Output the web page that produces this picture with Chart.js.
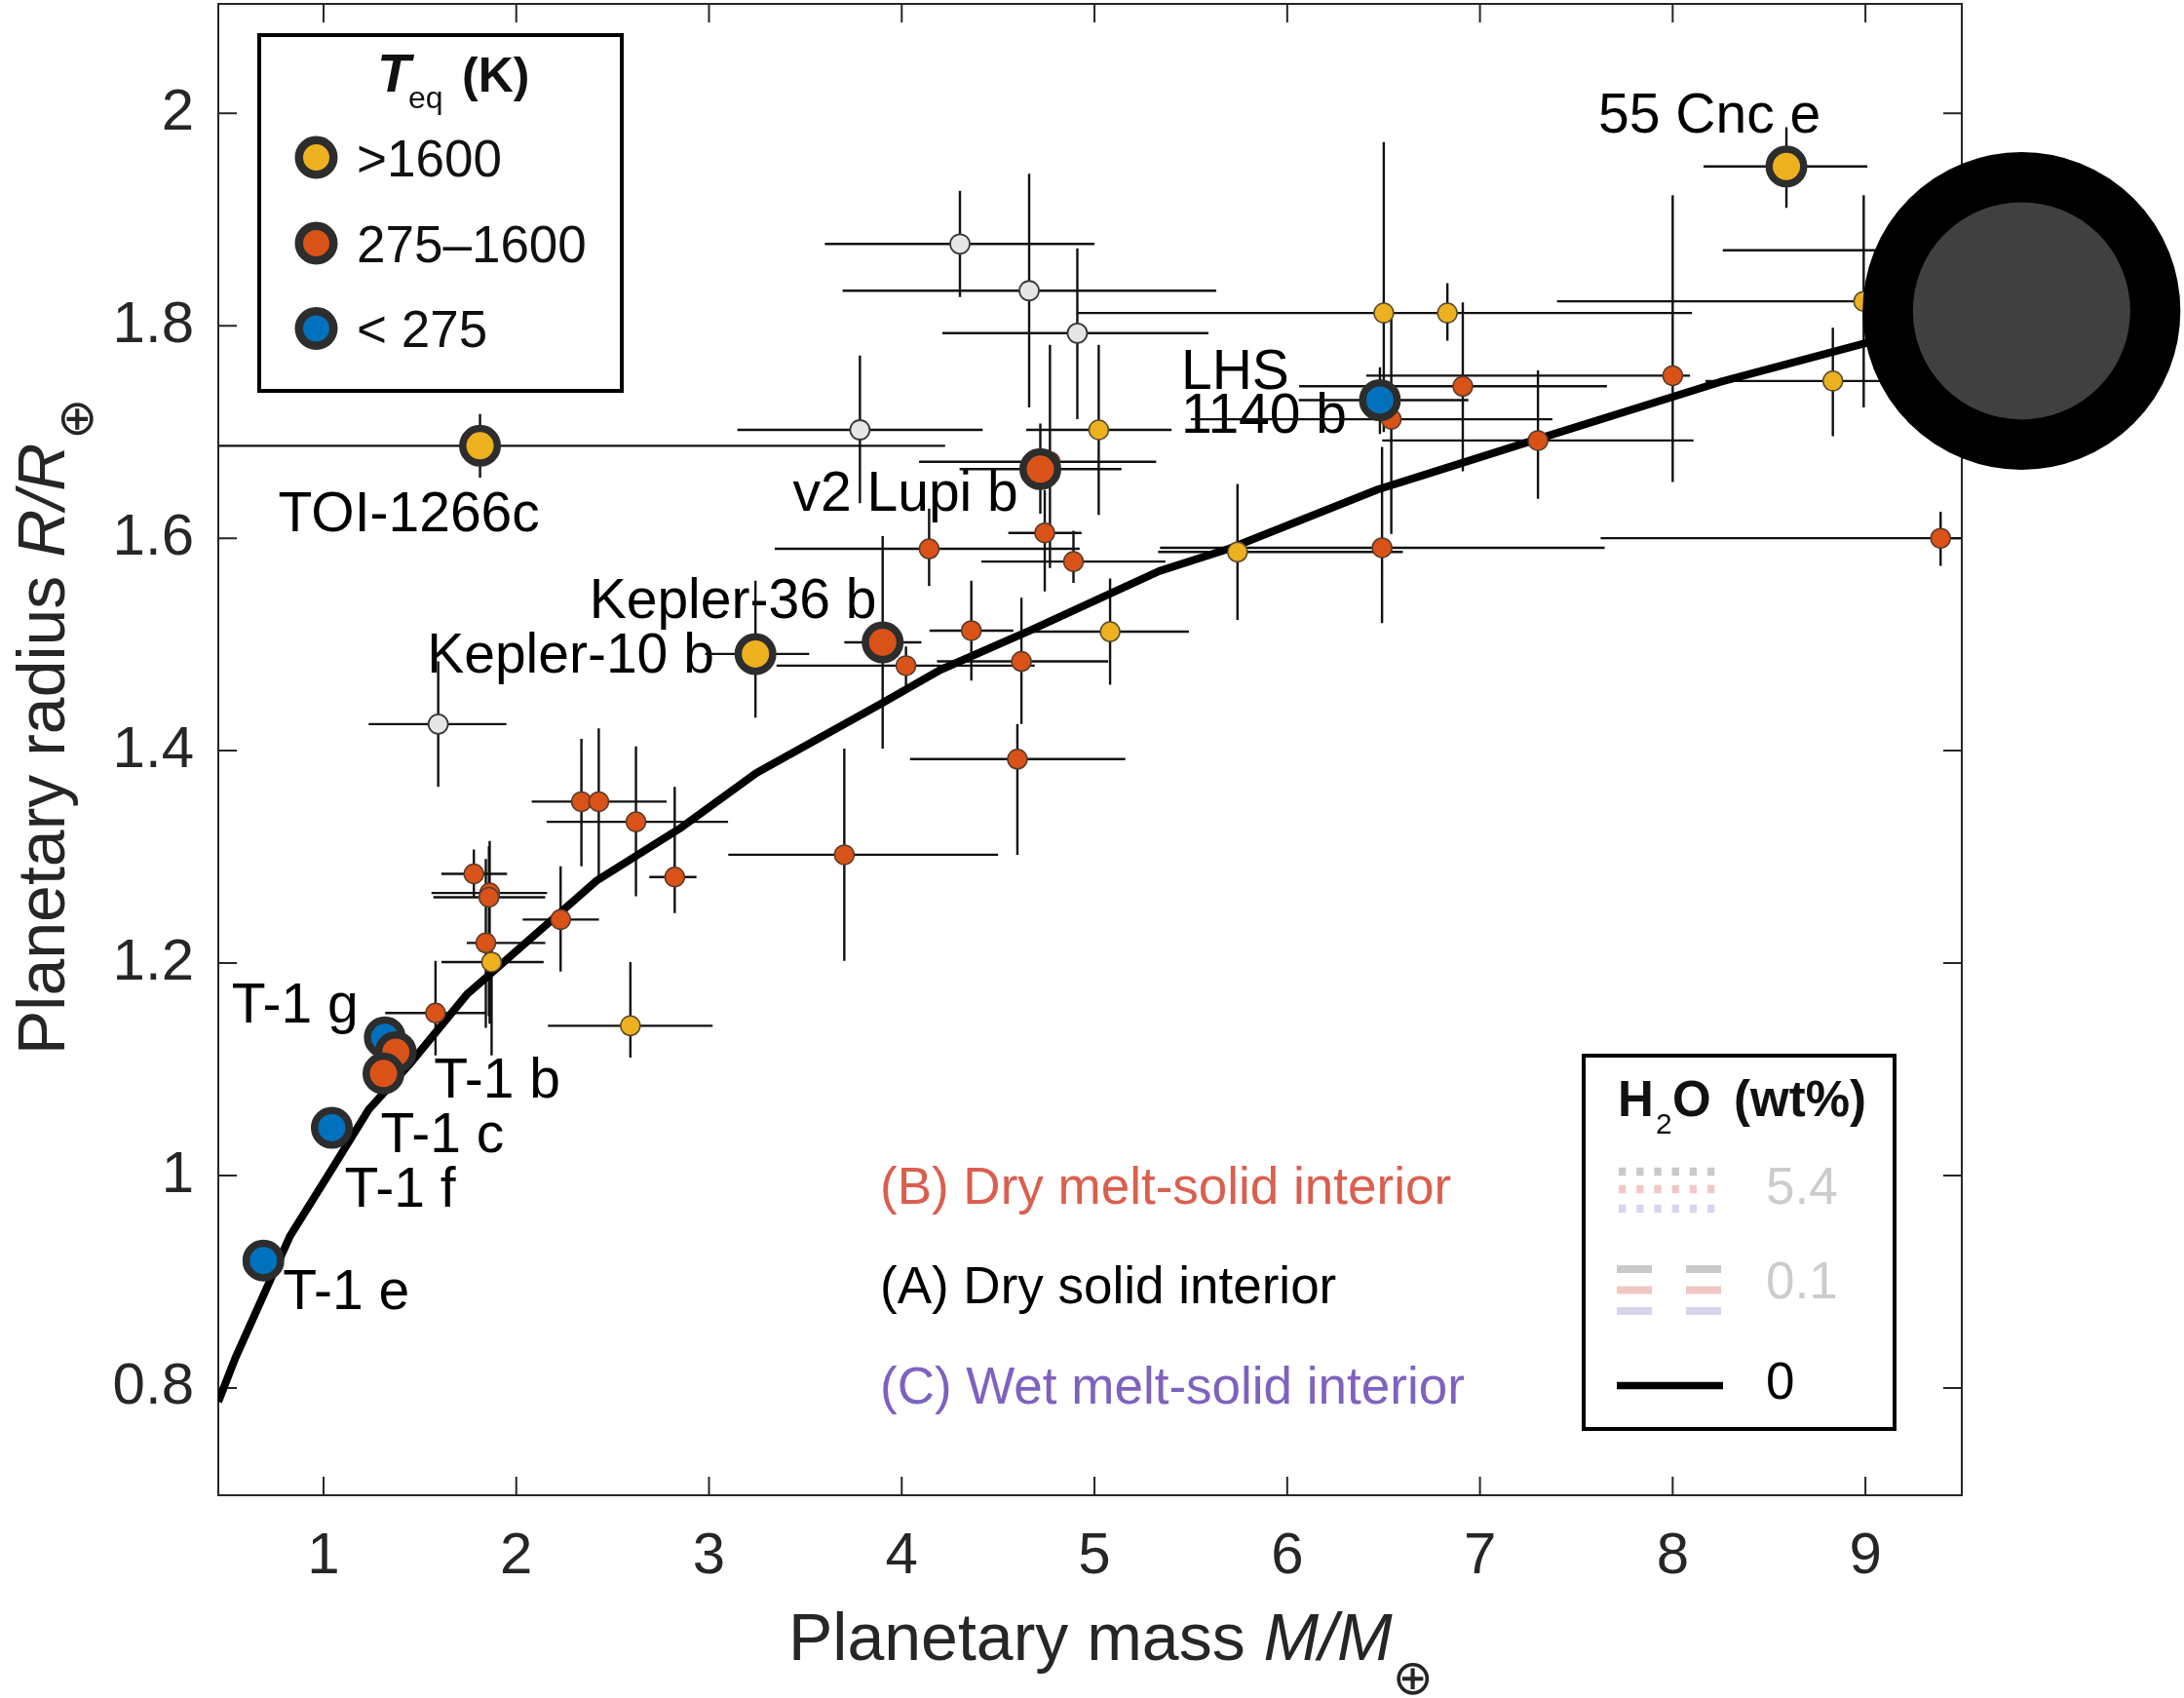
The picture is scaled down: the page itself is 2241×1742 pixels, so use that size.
<!DOCTYPE html>
<html lang="en">
<head>
  <meta charset="UTF-8">
  <title>Planetary mass-radius</title>
  <script src="https://cdn.jsdelivr.net/npm/chart.js"></script>
  <style>
    html, body { margin: 0; padding: 0; background: #fff; }
    canvas { display: block; }
  </style>
</head>
<body>
  <canvas id="chart" width="2241" height="1742"></canvas>
  <script>
    const xTicks = [1, 2, 3, 4, 5, 6, 7, 8, 9];
    const yTicks = [0.8, 1, 1.2, 1.4, 1.6, 1.8, 2];

    // rows: [mass, radius, massLo, massHi, radiusLo, radiusHi]
    const hotPlanets = [
      [1.872, 1.201, 1.612, 2.142, 1.113, 1.217],
      [2.592, 1.141, 2.164, 3.019, 1.111, 1.201],
      [5.081, 1.512, 4.63, 5.49, 1.462, 1.562],
      [5.742, 1.587, 5.33, 6.60, 1.523, 1.651],
      [5.022, 1.702, 4.646, 5.400, 1.622, 1.782],
      [6.501, 1.812, 4.91, 8.10, 1.70, 1.973],
      [6.831, 1.812, 6.60, 7.10, 1.786, 1.840],
      [8.831, 1.748, 8.17, 9.5, 1.696, 1.798],
      [8.991, 1.823, 7.40, 9.6, 1.723, 1.923],
      [9.30, 1.871, 8.26, 9.9, 1.83, 1.91]
    ];
    const warmPlanets = [
      [1.780, 1.284, 1.611, 1.952, 1.261, 1.307],
      [1.862, 1.266, 1.56, 2.16, 1.143, 1.315],
      [1.858, 1.262, 1.57, 2.15, 1.15, 1.31],
      [1.842, 1.219, 1.743, 2.151, 1.139, 1.298],
      [1.581, 1.153, 1.32, 1.842, 1.113, 1.202],
      [2.230, 1.241, 2.033, 2.429, 1.192, 1.291],
      [2.822, 1.281, 2.69, 2.935, 1.247, 1.366],
      [2.621, 1.333, 2.157, 3.099, 1.263, 1.404],
      [2.338, 1.352, 2.08, 2.776, 1.291, 1.411],
      [2.428, 1.352, 2.10, 2.78, 1.281, 1.421],
      [3.702, 1.302, 3.10, 4.50, 1.202, 1.402],
      [4.022, 1.480, 3.35, 4.69, 1.461, 1.498],
      [4.361, 1.513, 4.144, 4.579, 1.466, 1.560],
      [4.621, 1.484, 4.183, 5.071, 1.425, 1.544],
      [4.600, 1.392, 4.043, 5.160, 1.302, 1.425],
      [4.142, 1.590, 3.341, 4.923, 1.555, 1.628],
      [4.742, 1.605, 4.553, 4.933, 1.550, 1.645],
      [4.891, 1.578, 4.413, 5.368, 1.558, 1.607],
      [4.769, 1.672, 4.09, 5.32, 1.572, 1.782],
      [6.492, 1.591, 5.34, 7.647, 1.520, 1.686],
      [6.540, 1.712, 5.50, 7.376, 1.604, 1.813],
      [6.911, 1.743, 6.062, 7.659, 1.663, 1.822],
      [7.301, 1.692, 6.493, 8.108, 1.637, 1.758],
      [8.000, 1.753, 6.41, 8.09, 1.653, 1.923],
      [9.390, 1.600, 7.626, 9.9, 1.574, 1.625]
    ];
    const unknownPlanets = [
      [4.302, 1.877, 3.601, 5.000, 1.827, 1.927],
      [4.661, 1.833, 3.693, 5.632, 1.723, 1.943],
      [4.911, 1.793, 4.211, 5.591, 1.712, 1.873],
      [3.783, 1.702, 3.147, 4.42, 1.633, 1.772],
      [1.595, 1.425, 1.234, 1.949, 1.366, 1.484]
    ];

    // highlighted planets
    const namedNames = ['55 Cnc e', 'TOI-1266c', 'v2 Lupi b', 'LHS 1140 b', 'Kepler-36 b', 'Kepler-10 b',
                        'T-1 g', 'T-1 b', 'T-1 c', 'T-1 f', 'T-1 e'];
    const namedMass = [8.59, 1.812, 4.719, 6.481, 3.901, 3.241, 1.318, 1.375, 1.311, 1.043, 0.688];
    const namedRadius = [1.950, 1.687, 1.665, 1.730, 1.502, 1.491, 1.130, 1.116, 1.096, 1.045, 0.920];
    const namedTeq = ['hot', 'hot', 'warm', 'cool', 'warm', 'hot', 'cool', 'warm', 'warm', 'cool', 'cool'];
    const namedMassErr = [[8.16, 9.01], [0, 4.225], [4.30, 5.14], [6.06, 6.94], [3.702, 4.102], [2.98, 3.52],
                          null, null, null, null, null];
    const namedRadiusErr = [[1.911, 1.987], [1.657, 1.717], [1.623, 1.708], [1.698, 1.761], [1.402, 1.602], [1.431, 1.560],
                            null, null, null, null, null];

    // dry solid interior, 0 wt% H2O
    const curveMass = [0.454, 0.542, 0.826, 1.057, 1.234, 1.443, 1.746, 2.42, 2.859, 3.246, 3.89, 4.20,
                       4.665, 5.336, 5.697, 6.472, 6.70, 7.276, 8.245, 8.99, 9.5];
    const curveRadius = [0.787, 0.828, 0.943, 1.010, 1.062, 1.104, 1.171, 1.278, 1.328, 1.379, 1.444, 1.476,
                         1.513, 1.569, 1.590, 1.646, 1.659, 1.692, 1.747, 1.783, 1.808];

    const bigMass = [9.81];
    const bigRadius = [1.814];

    const teqColor = { hot: '#EDB120', warm: '#D95319', cool: '#0072BD' };
    const FONT = "'Liberation Sans', Arial, Helvetica, sans-serif";

    // label placement, pixels from the marker
    const labelLines = [['55 Cnc e'], ['TOI-1266c'], ['v2 Lupi b'], ['LHS', '1140 b'], ['Kepler-36 b'], ['Kepler-10 b'],
                        ['T-1 g'], ['T-1 b'], ['T-1 c'], ['T-1 f'], ['T-1 e']];
    const labelOffset = [[-193, -35], [-207, 88], [-254, 43], [-204, -11], [-301, -25], [-337, 19],
                         [-157, -15], [39, 46], [-3, 81], [13, 81], [20, 50]];

    const toPts = rows => rows.map(r => ({ x: r[0], y: r[1] }));

    const underLayer = {
      id: 'underLayer',
      beforeDatasetsDraw(chart) {
        const { ctx, chartArea: a, scales: { x, y } } = chart;
        ctx.save();
        // box + inward ticks
        ctx.strokeStyle = '#262626';
        ctx.lineWidth = 2;
        ctx.strokeRect(a.left, a.top, a.right - a.left, a.bottom - a.top);
        ctx.beginPath();
        xTicks.forEach(v => {
          const px = x.getPixelForValue(v);
          ctx.moveTo(px, a.bottom); ctx.lineTo(px, a.bottom - 19);
          ctx.moveTo(px, a.top); ctx.lineTo(px, a.top + 19);
        });
        yTicks.forEach(v => {
          const py = y.getPixelForValue(v);
          ctx.moveTo(a.left, py); ctx.lineTo(a.left + 19, py);
          ctx.moveTo(a.right, py); ctx.lineTo(a.right - 19, py);
        });
        ctx.stroke();

        // planet names
        ctx.fillStyle = '#000';
        ctx.font = '57px ' + FONT;
        ctx.textBaseline = 'alphabetic';
        ctx.textAlign = 'left';
        namedNames.forEach((n, i) => {
          const px = x.getPixelForValue(namedMass[i]) + labelOffset[i][0];
          const py = y.getPixelForValue(namedRadius[i]) + labelOffset[i][1];
          labelLines[i].forEach((t, k) => ctx.fillText(t, px, py + k * 45));
        });

        // error bars
        ctx.beginPath();
        ctx.rect(a.left, a.top, a.right - a.left, a.bottom - a.top);
        ctx.clip();
        ctx.strokeStyle = '#111';
        ctx.lineWidth = 2.4;
        const rows = [...unknownPlanets, ...hotPlanets, ...warmPlanets];
        namedNames.forEach((n, i) => {
          if (namedMassErr[i]) rows.push([namedMass[i], namedRadius[i], ...namedMassErr[i], ...namedRadiusErr[i]]);
        });
        ctx.beginPath();
        rows.forEach(([m, r, mLo, mHi, rLo, rHi]) => {
          const px = x.getPixelForValue(m), py = y.getPixelForValue(r);
          ctx.moveTo(x.getPixelForValue(mLo), py); ctx.lineTo(x.getPixelForValue(mHi), py);
          ctx.moveTo(px, y.getPixelForValue(rLo)); ctx.lineTo(px, y.getPixelForValue(rHi));
        });
        ctx.stroke();
        ctx.restore();
      }
    };

    function richText(ctx, parts, x, y) {
      let cx = x;
      parts.forEach(p => {
        ctx.font = p.font;
        ctx.textBaseline = p.middle ? 'middle' : 'alphabetic';
        ctx.fillText(p.text, cx + (p.dx || 0), y + (p.dy || 0));
        cx += ctx.measureText(p.text).width + (p.dx || 0);
      });
    }

    const overLayer = {
      id: 'overLayer',
      afterDraw(chart) {
        const { ctx } = chart;
        ctx.save();
        ctx.textAlign = 'left';
        ctx.fillStyle = '#262626';

        // axis titles
        richText(ctx, [
          { text: 'Planetary mass ', font: '68px ' + FONT },
          { text: 'M/M', font: 'italic 68px ' + FONT },
          { text: '\u2295', font: '50px "DejaVu Sans"', middle: true, dy: 22, dx: 0 }
        ], 809, 1703);
        ctx.save();
        ctx.translate(66, 1082);
        ctx.rotate(-Math.PI / 2);
        richText(ctx, [
          { text: 'Planetary radius ', font: '68px ' + FONT },
          { text: 'R/R', font: 'italic 68px ' + FONT },
          { text: '\u2295', font: '50px "DejaVu Sans"', middle: true, dy: 16, dx: 4 }
        ], 0, 0);
        ctx.restore();

        // interior labels
        ctx.textBaseline = 'alphabetic';
        ctx.font = '53px ' + FONT;
        ctx.fillStyle = '#DA5F4E';
        ctx.fillText('(B) Dry melt-solid interior', 903, 1235);
        ctx.fillStyle = '#000';
        ctx.fillText('(A) Dry solid interior', 903, 1337);
        ctx.fillStyle = '#7E62BF';
        ctx.fillText('(C) Wet melt-solid interior', 903, 1440);

        // Teq legend
        ctx.fillStyle = '#fff';
        ctx.fillRect(266, 36, 372, 365);
        ctx.strokeStyle = '#000';
        ctx.lineWidth = 4;
        ctx.strokeRect(266, 36, 372, 365);
        ctx.fillStyle = '#111';
        ctx.font = 'italic bold 56px ' + FONT;
        ctx.fillText('T', 387, 94);
        ctx.font = '32px ' + FONT;
        ctx.fillText('eq', 419, 111);
        ctx.font = 'bold 50px ' + FONT;
        ctx.fillText('(K)', 474, 94);
        const teqKeys = ['hot', 'warm', 'cool'];
        const teqText = ['>1600', '275\u20131600', '< 275'];
        const teqY = [161.5, 249.5, 337];
        teqKeys.forEach((k, i) => {
          ctx.beginPath();
          ctx.arc(324.5, teqY[i], 17.75, 0, Math.PI * 2);
          ctx.fillStyle = teqColor[k];
          ctx.fill();
          ctx.lineWidth = 8.5;
          ctx.strokeStyle = '#2d2d2d';
          ctx.stroke();
          ctx.fillStyle = '#111';
          ctx.font = '53px ' + FONT;
          ctx.fillText(teqText[i], 366, teqY[i] + 19);
        });

        // H2O legend
        ctx.fillStyle = '#fff';
        ctx.fillRect(1625, 1083, 319, 383);
        ctx.strokeStyle = '#000';
        ctx.lineWidth = 4;
        ctx.strokeRect(1625, 1083, 319, 383);
        ctx.fillStyle = '#111';
        ctx.font = 'bold 51px ' + FONT;
        ctx.fillText('H', 1660, 1145);
        ctx.font = '30px ' + FONT;
        ctx.fillText('2', 1699, 1163);
        ctx.font = 'bold 51px ' + FONT;
        ctx.fillText('O', 1716, 1145);
        ctx.fillText('(wt%)', 1779, 1145);

        const pale = ['#c9c9c9', '#f1c8c5', '#d9d4ee'];
        ctx.lineCap = 'butt';
        ctx.lineWidth = 8.5;
        ctx.setLineDash([7.3, 10.9]);
        [1202, 1220, 1240].forEach((yy, i) => {
          ctx.strokeStyle = pale[i];
          ctx.beginPath(); ctx.moveTo(1661, yy); ctx.lineTo(1768, yy); ctx.stroke();
        });
        ctx.lineWidth = 8;
        ctx.setLineDash([36, 35]);
        [1302, 1323.5, 1345].forEach((yy, i) => {
          ctx.strokeStyle = pale[i];
          ctx.beginPath(); ctx.moveTo(1659, yy); ctx.lineTo(1768, yy); ctx.stroke();
        });
        ctx.setLineDash([]);
        ctx.lineWidth = 7.5;
        ctx.strokeStyle = '#000';
        ctx.beginPath(); ctx.moveTo(1659, 1421.5); ctx.lineTo(1768, 1421.5); ctx.stroke();

        ctx.font = '53px ' + FONT;
        ctx.fillStyle = '#cccccc';
        ctx.fillText('5.4', 1812, 1235);
        ctx.fillText('0.1', 1812, 1332);
        ctx.fillStyle = '#000';
        ctx.fillText('0', 1812, 1435);
        ctx.restore();
      }
    };

    const ctx = document.getElementById('chart').getContext('2d');
    const chart = new Chart(ctx, {
      type: 'scatter',
      data: {
        datasets: [
          {
            type: 'line',
            label: 'Dry solid interior',
            data: curveMass.map((m, i) => ({ x: m, y: curveRadius[i] })),
            borderColor: '#000',
            borderWidth: 8,
            pointRadius: 0,
            tension: 0,
            fill: false,
            borderJoinStyle: 'round',
            order: 10
          },
          {
            label: 'Teq unknown',
            data: toPts(unknownPlanets),
            backgroundColor: '#e6e6e6',
            borderColor: '#3a3a3a',
            borderWidth: 1.8,
            pointRadius: 10,
            order: 6
          },
          {
            label: '>1600',
            data: toPts(hotPlanets),
            backgroundColor: teqColor.hot,
            borderColor: '#5a4a2a',
            borderWidth: 1.5,
            pointRadius: 10,
            order: 5
          },
          {
            label: '275-1600',
            data: toPts(warmPlanets),
            backgroundColor: teqColor.warm,
            borderColor: '#5a3a2a',
            borderWidth: 1.5,
            pointRadius: 10,
            order: 5
          },
          {
            label: 'named',
            data: namedMass.map((m, i) => ({ x: m, y: namedRadius[i] })),
            backgroundColor: namedTeq.map(t => teqColor[t]),
            borderColor: '#2d2d2d',
            borderWidth: 7.5,
            pointRadius: 17.75,
            order: 2
          },
          {
            label: 'big',
            data: bigMass.map((m, i) => ({ x: m, y: bigRadius[i] })),
            backgroundColor: '#404040',
            borderColor: '#000',
            borderWidth: 51.5,
            pointRadius: 137.25,
            clip: false,
            order: 1
          }
        ]
      },
      options: {
        responsive: false,
        animation: false,
        devicePixelRatio: 1,
        events: [],
        layout: { autoPadding: false, padding: { left: 0, top: 4, right: 228, bottom: 0 } },
        plugins: { legend: { display: false }, tooltip: { enabled: false } },
        scales: {
          x: {
            type: 'linear',
            min: 0.454,
            max: 9.5,
            grid: { display: false, drawTicks: false },
            border: { display: false },
            ticks: {
              font: { family: FONT, size: 60 },
              color: '#262626',
              padding: 27,
              autoSkip: false,
              maxRotation: 0,
              callback: v => String(v)
            },
            afterBuildTicks: s => { s.ticks = xTicks.map(v => ({ value: v })); },
            afterFit: s => {
              s.height = 208;
              s.paddingLeft = 0; s.paddingRight = 0; s.paddingTop = 0; s.paddingBottom = 0;
            }
          },
          y: {
            type: 'linear',
            min: 0.699,
            max: 2.103,
            grid: { display: false, drawTicks: false },
            border: { display: false },
            ticks: {
              font: { family: FONT, size: 60 },
              color: '#262626',
              padding: 25,
              autoSkip: false,
              callback: v => String(Number(v.toFixed(1)))
            },
            afterBuildTicks: s => { s.ticks = yTicks.map(v => ({ value: v })); },
            afterFit: s => {
              s.width = 224;
              s.paddingLeft = 0; s.paddingRight = 0; s.paddingTop = 0; s.paddingBottom = 0;
            }
          }
        }
      },
      plugins: [underLayer, overLayer]
    });
  </script>
</body>
</html>
